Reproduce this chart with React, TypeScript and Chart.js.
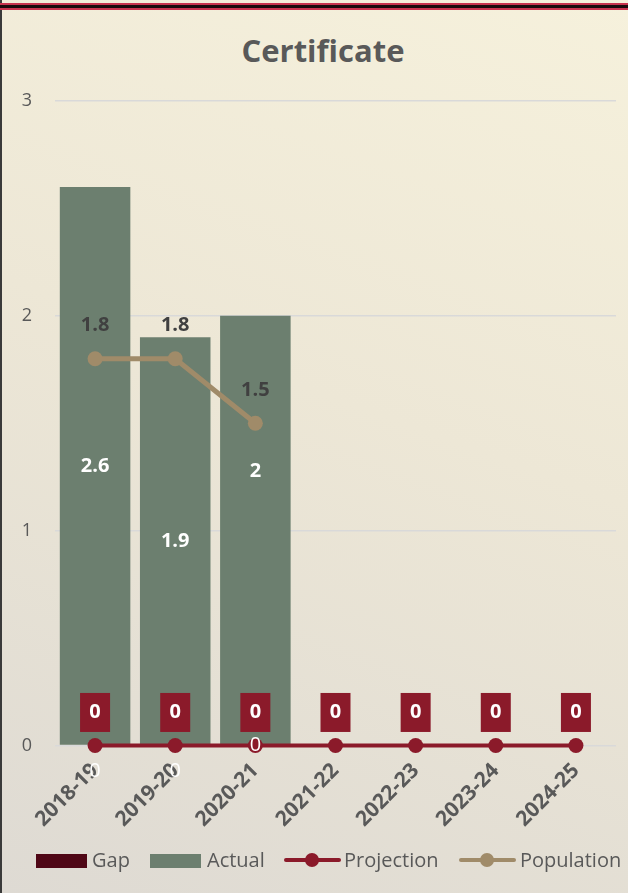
import React, { useEffect, useRef } from "react";
import { Chart, registerables } from "chart.js";

Chart.register(...registerables);

const categories = ["2018-19", "2019-20", "2020-21", "2021-22", "2022-23", "2023-24", "2024-25"];
const gapValues: (number | null)[] = [0, 0, 0, null, null, null, null];
const actualValues: (number | null)[] = [2.6, 1.9, 2, null, null, null, null];
const projectionValues: (number | null)[] = [0, 0, 0, 0, 0, 0, 0];
const populationValues: (number | null)[] = [1.8, 1.8, 1.5, null, null, null, null];
const yTicks = [0, 1, 2, 3];

const TITLE = "Certificate";
const GREY = "#595959";
const C_GAP = "#4f0716";
const C_ACTUAL = "#6c7f6f";
const C_PROJ = "#8b1a2a";
const C_POP = "#a08b69";
const FONT = "'Open Sans', 'Noto Sans', sans-serif";
// label style offsets (pixels)
const gapLabelDrop = [26, 26, 0];
const actualLabelShift = [0, 0, -59];

const labelPlugin = {
  id: "valueLabels",
  afterDatasetsDraw(chart: any) {
    const ctx = chart.ctx;
    ctx.save();
    ctx.textAlign = "center";
    ctx.textBaseline = "middle";
    // Actual labels
    const mActual = chart.getDatasetMeta(1);
    mActual.data.forEach((el: any, i: number) => {
      const v = actualValues[i];
      if (v == null) return;
      const yC = (el.y + el.base) / 2 + (actualLabelShift[i] ?? 0);
      ctx.fillStyle = "#ffffff";
      ctx.font = `bold 20px ${FONT}`;
      ctx.fillText(String(v), el.x, yC);
    });
    // Gap labels
    const mGap = chart.getDatasetMeta(0);
    mGap.data.forEach((el: any, i: number) => {
      const v = gapValues[i];
      if (v == null) return;
      ctx.fillStyle = "#ffffff";
      ctx.font = `20px ${FONT}`;
      ctx.fillText(String(v), el.x, el.y + (gapLabelDrop[i] ?? 0));
    });
    // Projection labels in red boxes
    const mProj = chart.getDatasetMeta(2);
    mProj.data.forEach((el: any, i: number) => {
      const v = projectionValues[i];
      if (v == null) return;
      const cy = el.y - 33;
      ctx.fillStyle = C_PROJ;
      ctx.fillRect(el.x - 15, cy - 19.5, 30, 39);
      ctx.fillStyle = "#ffffff";
      ctx.font = `bold 20px ${FONT}`;
      ctx.fillText(String(v), el.x, cy);
    });
    // Population labels
    const mPop = chart.getDatasetMeta(3);
    mPop.data.forEach((el: any, i: number) => {
      const v = populationValues[i];
      if (v == null) return;
      ctx.fillStyle = "#404040";
      ctx.font = `bold 20px ${FONT}`;
      ctx.fillText(String(v), el.x, el.y - 33);
    });
    ctx.restore();
  },
};

const textStyle: React.CSSProperties = {
  position: "absolute",
  top: 860,
  transform: "translateY(-50%)",
  color: GREY,
  fontSize: 20,
  fontFamily: FONT,
  lineHeight: "24px",
  whiteSpace: "nowrap",
};

function LegendBox({ left, color }: { left: number; color: string }) {
  return <div style={{ position: "absolute", left, top: 854, width: 51, height: 14, background: color }} />;
}

function LegendLine({ left, color }: { left: number; color: string }) {
  return (
    <div style={{ position: "absolute", left, top: 852, width: 57, height: 16 }}>
      <div style={{ position: "absolute", left: 0, right: 0, top: 6, height: 4, background: color, borderRadius: 2 }} />
      <div style={{ position: "absolute", left: 21, top: 1, width: 14, height: 14, borderRadius: 7, background: color }} />
    </div>
  );
}

export default function App() {
  const ref = useRef<HTMLCanvasElement | null>(null);
  useEffect(() => {
    document.body.style.margin = "0";
    const canvas = ref.current!;
    const chart = new Chart(canvas, {
      type: "bar",
      data: {
        labels: categories,
        datasets: [
          {
            type: "bar",
            label: "Gap",
            data: gapValues,
            backgroundColor: C_GAP,
            stack: "bars",
            order: 2,
            barPercentage: 0.88,
            categoryPercentage: 1,
          },
          {
            type: "bar",
            label: "Actual",
            data: actualValues,
            backgroundColor: C_ACTUAL,
            stack: "bars",
            order: 2,
            barPercentage: 0.88,
            categoryPercentage: 1,
          },
          {
            type: "line",
            label: "Projection",
            data: projectionValues,
            borderColor: C_PROJ,
            backgroundColor: C_PROJ,
            borderWidth: 4,
            pointRadius: 7.5,
            pointBorderWidth: 0,
            stack: "proj",
            order: 1,
            clip: false,
          } as any,
          {
            type: "line",
            label: "Population",
            data: populationValues,
            borderColor: C_POP,
            backgroundColor: C_POP,
            borderWidth: 5,
            pointRadius: 7.5,
            pointBorderWidth: 0,
            stack: "pop",
            order: 0,
            clip: false,
          } as any,
        ],
      },
      options: {
        animation: false,
        responsive: false,
        maintainAspectRatio: false,
        layout: { padding: { left: 0, right: 12, top: 101, bottom: 48 } },
        plugins: {
          legend: { display: false },
          tooltip: { enabled: false },
          title: { display: false },
        },
        scales: {
          x: {
            stacked: true,
            offset: true,
            z: 1,
            grid: { display: false, drawTicks: false },
            border: { display: false },
            afterFit: (s: any) => {
              s.paddingLeft = 0;
              s.paddingRight = 0;
            },
            ticks: {
              color: GREY,
              font: { family: FONT, size: 21, weight: "bold" },
              maxRotation: 45,
              minRotation: 45,
              padding: 13,
              autoSkip: false,
            },
          },
          y: {
            stacked: true,
            min: 0,
            max: 3,
            afterBuildTicks: (s: any) => {
              s.ticks = yTicks.map((v) => ({ value: v }));
            },
            afterFit: (s: any) => {
              s.width = 55;
              s.paddingTop = 0;
            },
            grid: { color: "#d9d9d9", lineWidth: 1.5, drawTicks: false },
            border: { display: false },
            ticks: {
              color: GREY,
              font: { family: FONT, size: 18 },
              padding: 23,
            },
          },
        },
      },
      plugins: [labelPlugin],
    });
    return () => chart.destroy();
  }, []);

  return (
    <div
      style={{
        position: "absolute",
        left: 0,
        top: 0,
        width: 628,
        height: 893,
        overflow: "hidden",
        background: "linear-gradient(200deg, #f6f1dc 0%, #ede7d6 45%, #dedad3 100%)",
        fontFamily: FONT,
      }}
    >
      <div style={{ position: "absolute", left: 0, top: 0, width: 2, height: 893, background: "#3a3a3a" }} />
      <div style={{ position: "absolute", left: 0, top: 3, width: 628, height: 2, background: "#c8334e" }} />
      <div style={{ position: "absolute", left: 0, top: 5, width: 628, height: 3, background: "#1a0a0c" }} />
      <div style={{ position: "absolute", left: 0, top: 8, width: 628, height: 2, background: "#c8334e" }} />
      <div
        style={{
          position: "absolute",
          left: 123,
          width: 400,
          top: 30,
          textAlign: "center",
          fontSize: 31,
          fontWeight: "bold",
          lineHeight: "40px",
          color: GREY,
          fontFamily: FONT,
        }}
      >
        {TITLE}
      </div>
      <canvas ref={ref} width={628} height={893} style={{ position: "absolute", left: 0, top: 0 }} />
      <LegendBox left={36} color={C_GAP} />
      <span style={{ ...textStyle, left: 92 }}>Gap</span>
      <LegendBox left={150} color={C_ACTUAL} />
      <span style={{ ...textStyle, left: 207 }}>Actual</span>
      <LegendLine left={284} color={C_PROJ} />
      <span style={{ ...textStyle, left: 344 }}>Projection</span>
      <LegendLine left={459} color={C_POP} />
      <span style={{ ...textStyle, left: 520 }}>Population</span>
    </div>
  );
}
